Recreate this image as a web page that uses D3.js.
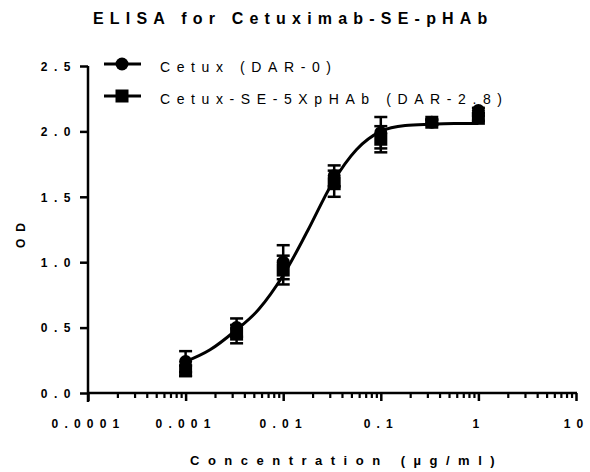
<!DOCTYPE html>
<html>
<head>
<meta charset="utf-8">
<script src="https://cdn.jsdelivr.net/npm/d3@7"></script>
<style>
  body { margin: 0; background: #fff; }
  svg { font-family: "Liberation Sans", Arial, sans-serif; }
</style>
</head>
<body>
<svg width="590" height="472"></svg>
<script>
// concentrations in ug/ml
var concentrations = [0.001, 0.00333, 0.01, 0.0333, 0.1, 0.333, 1];

var cetuxMean = [0.24, 0.50, 1.00, 1.66, 1.99, 2.07, 2.16];
var cetuxErr  = [0.08, 0.07, 0.13, 0.08, 0.12, 0.02, 0.02];

var phabMean = [0.17, 0.45, 0.94, 1.60, 1.94, 2.07, 2.10];
var phabErr  = [0.04, 0.07, 0.11, 0.10, 0.10, 0.02, 0.02];

// fitted curve
var fitConc = [0.001, 0.00178, 0.00316, 0.00562, 0.01, 0.0178, 0.0316, 0.0562, 0.1, 0.178, 0.316, 0.562, 1];
var fitOD   = [0.24, 0.33, 0.47, 0.64, 0.90, 1.24, 1.60, 1.86, 2.00, 2.045, 2.055, 2.06, 2.06];

var yTicks = [0, 0.5, 1.0, 1.5, 2.0, 2.5];
var xTicks = [0.0001, 0.001, 0.01, 0.1, 1, 10];
var xTickLabels = ["0.0001", "0.001", "0.01", "0.1", "1", "10"];

var seriesNames = ["Cetux (DAR-0)", "Cetux-SE-5XpHAb (DAR-2.8)"];

var svg = d3.select('svg');

var x = d3.scaleLog()
  .domain([0.0001, 10])
  .range([88, 576]);

var y = d3.scaleLinear()
  .domain([0, 2.5])
  .range([393, 66]);

// fit line
var line = d3.line()
  .x(function(d, i) { return x(fitConc[i]); })
  .y(function(d) { return y(d); })
  .curve(d3.curveMonotoneX);

svg.append('path')
  .attr('d', line(fitOD))
  .attr('fill', 'none')
  .attr('stroke', '#000')
  .attr('stroke-width', 3);

function errorBars(means, errs) {
  var g = svg.append('g').attr('stroke', '#000').attr('stroke-width', 2.5);
  concentrations.forEach(function(c, i) {
    var cx = x(c), top = y(means[i] + errs[i]), bot = y(means[i] - errs[i]);
    g.append('line').attr('x1', cx).attr('x2', cx).attr('y1', top).attr('y2', bot);
    g.append('line').attr('x1', cx - 6.5).attr('x2', cx + 6.5).attr('y1', top).attr('y2', top);
    g.append('line').attr('x1', cx - 6.5).attr('x2', cx + 6.5).attr('y1', bot).attr('y2', bot);
  });
}

errorBars(cetuxMean, cetuxErr);
errorBars(phabMean, phabErr);

svg.append('g')
  .selectAll('circle')
  .data(cetuxMean)
  .enter()
  .append('circle')
  .attr('cx', function(d, i) { return x(concentrations[i]); })
  .attr('cy', function(d) { return y(d); })
  .attr('r', 6.5)
  .attr('fill', '#000');

svg.append('g')
  .selectAll('rect')
  .data(phabMean)
  .enter()
  .append('rect')
  .attr('x', function(d, i) { return x(concentrations[i]) - 6.5; })
  .attr('y', function(d) { return y(d) - 6.5; })
  .attr('width', 13)
  .attr('height', 13)
  .attr('fill', '#000');

// minor ticks for the log axis
var minor = [];
xTicks.slice(0, -1).forEach(function(t) {
  for (var k = 2; k < 10; k++) minor.push(t * k);
});

// x axis
var gxMinor = svg.append('g').attr('transform', 'translate(0,393)');
gxMinor.call(d3.axisBottom(x).tickValues(minor).tickSize(5).tickFormat(function() { return ''; }).tickSizeOuter(0));
gxMinor.select('path.domain').remove();
gxMinor.selectAll('.tick line').attr('stroke-width', 2.2).attr('stroke', '#000');

var gx = svg.append('g').attr('transform', 'translate(0,393)');
gx.call(d3.axisBottom(x).tickValues(xTicks).tickSize(8).tickSizeOuter(0)
  .tickFormat(function(d, i) { return xTickLabels[i]; }));
gx.select('path.domain').attr('stroke-width', 2.5).attr('d', 'M88,0H577');
gx.selectAll('.tick line').attr('stroke-width', 2.5).attr('stroke', '#000');
gx.selectAll('.tick text')
  .attr('y', 35)
  .attr('dy', 0)
  .style('font-size', '12px')
  .style('font-weight', 'bold')
  .style('letter-spacing', '6.2px')
  .attr('font-family', null)
  .attr('fill', '#000');

// y axis
var gy = svg.append('g').attr('transform', 'translate(88,0)');
gy.call(d3.axisLeft(y).tickValues(yTicks).tickSize(8).tickSizeOuter(0).tickFormat(d3.format('.1f')));
gy.select('path.domain').attr('stroke-width', 2.5).attr('d', 'M0,66V402');
gy.selectAll('.tick line').attr('stroke-width', 2.5).attr('stroke', '#000');
gy.selectAll('.tick text')
  .attr('x', -11)
  .attr('dy', '0.36em')
  .style('font-size', '12px')
  .style('font-weight', 'bold')
  .style('letter-spacing', '6.5px')
  .attr('font-family', null)
  .attr('fill', '#000');

// legend
var legend = svg.append('g');
seriesNames.forEach(function(name, i) {
  var ly = 64 + i * 32;
  legend.append('line')
    .attr('x1', 104).attr('x2', 141).attr('y1', ly).attr('y2', ly)
    .attr('stroke', '#000').attr('stroke-width', 3);
  if (i === 0) {
    legend.append('circle').attr('cx', 122).attr('cy', ly).attr('r', 6.5).attr('fill', '#000');
  } else {
    legend.append('rect').attr('x', 115.5).attr('y', ly - 6.5).attr('width', 13).attr('height', 13).attr('fill', '#000');
  }
  legend.append('text')
    .attr('x', 160).attr('y', ly + 8)
    .style('font-size', '14px')
    .style('letter-spacing', '6.6px')
    .text(name);
});

// titles
svg.append('text')
  .attr('x', 93).attr('y', 24)
  .style('font-size', '16px')
  .style('font-weight', 'bold')
  .style('letter-spacing', '6.2px')
  .text('ELISA for Cetuximab-SE-pHAb');

svg.append('text')
  .attr('x', 190).attr('y', 465)
  .style('font-size', '13px')
  .style('font-weight', 'bold')
  .style('letter-spacing', '8.5px')
  .text('Concentration (µg/ml)');

svg.append('text')
  .attr('transform', 'translate(25,232) rotate(-90)')
  .attr('text-anchor', 'middle')
  .style('font-size', '12px')
  .style('font-weight', 'bold')
  .style('letter-spacing', '7px')
  .text('OD');
</script>
</body>
</html>
